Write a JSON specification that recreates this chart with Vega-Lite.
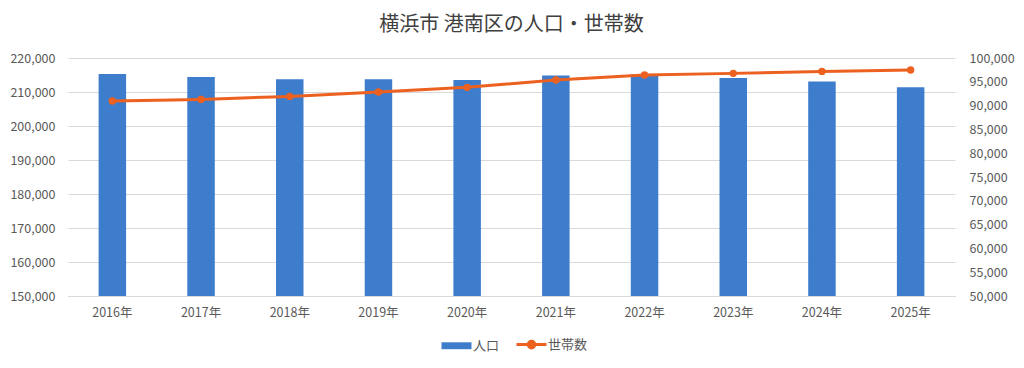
{
  "$schema": "https://vega.github.io/schema/vega-lite/v6.json",
  "width": 887,
  "height": 238,
  "autosize": {"type": "none"},
  "padding": {"left": 68, "top": 58, "right": 69, "bottom": 72},
  "background": "#ffffff",
  "title": {
    "text": "横浜市 港南区の人口・世帯数",
    "font": "Noto Sans CJK JP",
    "fontSize": 20,
    "fontWeight": "normal",
    "color": "#404040",
    "anchor": "middle",
    "baseline": "bottom",
    "offset": -3
  },
  "config": {
    "view": {"stroke": null},
    "font": "Noto Sans CJK JP",
    "axis": {
      "labelFont": "Noto Sans CJK JP",
      "labelFontSize": 12.5,
      "labelColor": "#595959",
      "ticks": false,
      "domain": false,
      "gridColor": "#D9D9D9",
      "title": null
    }
  },
  "data": {
    "values": [
      {"year": "2016年", "pop": 215300, "hh": 90950},
      {"year": "2017年", "pop": 214400, "hh": 91300},
      {"year": "2018年", "pop": 213750, "hh": 91930},
      {"year": "2019年", "pop": 213750, "hh": 92840},
      {"year": "2020年", "pop": 213500, "hh": 93830},
      {"year": "2021年", "pop": 214850, "hh": 95370},
      {"year": "2022年", "pop": 215200, "hh": 96420},
      {"year": "2023年", "pop": 214150, "hh": 96770},
      {"year": "2024年", "pop": 213100, "hh": 97190},
      {"year": "2025年", "pop": 211400, "hh": 97470}
    ]
  },
  "encoding": {
    "x": {
      "field": "year",
      "type": "ordinal",
      "sort": null,
      "scale": {"paddingInner": 0.69, "paddingOuter": 0.345},
      "axis": {
        "labelAngle": 0,
        "labelPadding": 10,
        "domain": true,
        "domainColor": "#D9D9D9",
        "grid": false
      }
    }
  },
  "layer": [
    {
      "mark": {"type": "bar", "clip": true},
      "encoding": {
        "y": {
          "field": "pop",
          "type": "quantitative",
          "scale": {"domain": [150000, 220000], "nice": false, "zero": false},
          "axis": {
            "values": [150000, 160000, 170000, 180000, 190000, 200000, 210000, 220000],
            "format": ",d",
            "labelPadding": 13,
            "grid": true,
            "orient": "left"
          }
        },
        "color": {
          "datum": "人口",
          "type": "nominal",
          "scale": {"domain": ["人口", "世帯数"], "range": ["#3E7DCC", "#EC6120"]},
          "legend": {
            "orient": "none",
            "legendX": 382,
            "legendY": 280,
            "direction": "horizontal",
            "title": null,
            "symbolSize": 900,
            "labelFont": "Noto Sans CJK JP",
            "labelFontSize": 13,
            "labelColor": "#595959",
            "labelOffset": 10,
            "columnPadding": 10,
            "encode": {
              "symbols": {
                "update": {
                  "shape": {"signal": "datum.value === '人口' ? 'M-1,-0.23H1V0.23H-1Z' : 'M-1,0H1M0.22,0A0.22,0.22,0,1,1,-0.22,0A0.22,0.22,0,1,1,0.22,0Z'"},
                  "size": {"value": 900},
                  "fill": {"signal": "datum.value === '人口' ? '#3E7DCC' : '#EC6120'"},
                  "stroke": {"signal": "datum.value === '人口' ? '#3E7DCC' : '#EC6120'"},
                  "strokeWidth": {"signal": "datum.value === '人口' ? 0 : 3"},
                  "opacity": {"value": 1},
                  "fillOpacity": {"value": 1}
                }
              }
            }
          }
        }
      }
    },
    {
      "mark": {
        "type": "line",
        "strokeWidth": 3,
        "point": {"filled": true, "size": 55}
      },
      "encoding": {
        "y": {
          "field": "hh",
          "type": "quantitative",
          "scale": {"domain": [50000, 100000], "nice": false, "zero": false},
          "axis": {
            "values": [50000, 55000, 60000, 65000, 70000, 75000, 80000, 85000, 90000, 95000, 100000],
            "format": ",d",
            "labelPadding": 14,
            "grid": false,
            "orient": "right"
          }
        },
        "color": {"datum": "世帯数", "type": "nominal"}
      }
    }
  ],
  "resolve": {"scale": {"y": "independent"}}
}
